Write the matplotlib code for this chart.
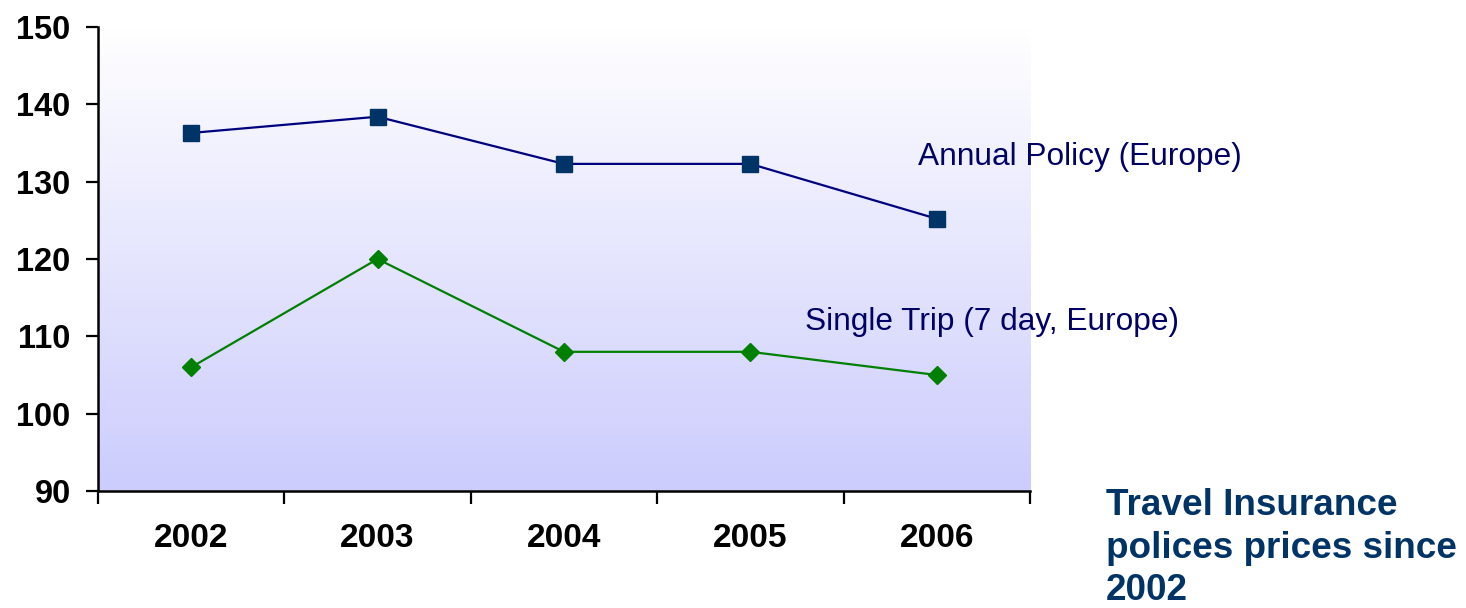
import numpy as np
import matplotlib.pyplot as plt
from matplotlib.colors import LinearSegmentedColormap

years = ["2002", "2003", "2004", "2005", "2006"]
annual_policy = [136.3, 138.4, 132.3, 132.3, 125.2]
single_trip = [106.0, 120.0, 108.0, 108.0, 105.0]
y_ticks = [90, 100, 110, 120, 130, 140, 150]
title_lines = ["Travel Insurance", "polices prices since", "2002"]

plt.rcParams['font.family'] = ['Liberation Sans', 'DejaVu Sans']

fig = plt.figure(figsize=(14.66, 6.08), dpi=100)
ax = fig.add_axes([0.0668, 0.1924, 0.6358, 0.7632])

x = np.arange(len(years))

# gradient background: white at top to lavender at bottom
cmap = LinearSegmentedColormap.from_list("bg", ["#ccccfd", "#ffffff"])
grad = np.linspace(0, 1, 256).reshape(-1, 1)
ax.imshow(grad, aspect="auto", cmap=cmap, origin="lower",
          extent=[-0.5, 4.5, 90, 150], zorder=0)

ax.plot(x, annual_policy, color="#000080", linewidth=1.6, marker="s",
        markersize=11, markerfacecolor="#003366", markeredgecolor="#003366", zorder=3)
ax.plot(x, single_trip, color="#008000", linewidth=1.6, marker="D",
        markersize=9.5, markerfacecolor="#008000", markeredgecolor="#008000", zorder=3)

ax.set_xlim(-0.5, 4.5)
ax.set_ylim(90, 150)
ax.set_yticks(y_ticks)
ax.set_yticklabels([str(v) for v in y_ticks], fontsize=23.5, fontweight="bold")

ax.set_xticks(np.arange(-0.5, 5, 1))
ax.set_xticklabels([])
ax.set_xticks(x, minor=True)
ax.set_xticklabels(years, minor=True, fontsize=24, fontweight="bold")
ax.tick_params(axis="x", which="major", length=9, width=1.6, direction="out")
ax.tick_params(axis="x", which="minor", length=0, pad=23)
ax.tick_params(axis="y", length=8.6, width=1.6, direction="out", pad=11)

for side in ["top", "right"]:
    ax.spines[side].set_visible(False)
for side in ["left", "bottom"]:
    ax.spines[side].set_linewidth(1.8)

fig.text(918 / 1466, 1 - 157 / 608, "Annual Policy (Europe)", fontsize=22.8,
         color="#000066", va="center", ha="left")
fig.text(805 / 1466, 1 - 322 / 608, "Single Trip (7 day, Europe)", fontsize=22.8,
         color="#000066", va="center", ha="left")

for i, line in enumerate(title_lines):
    fig.text(1106 / 1466, 1 - (515 + 42.5 * i) / 608, line, fontsize=26.6,
             fontweight="bold", color="#003366", va="baseline", ha="left")

fig.savefig("out.png", dpi=100)
